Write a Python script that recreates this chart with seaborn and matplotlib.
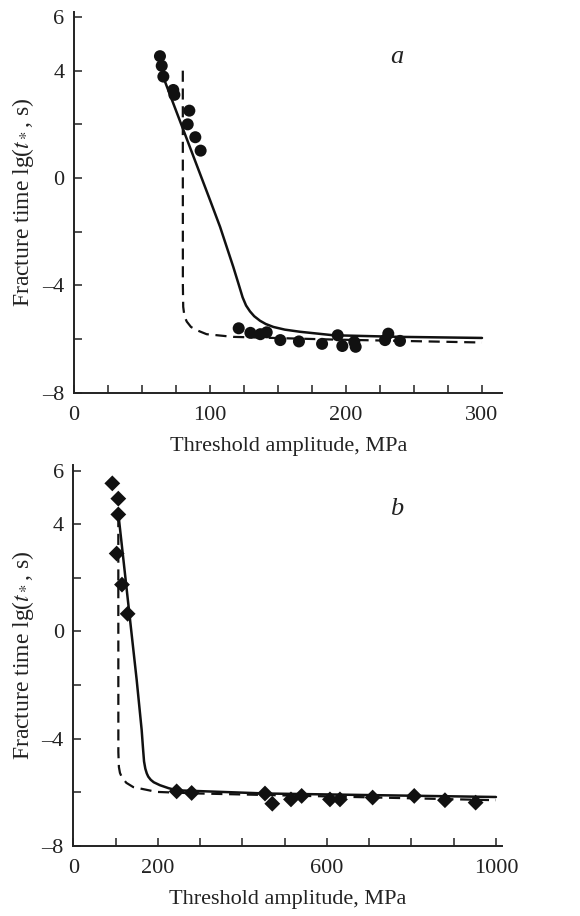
import matplotlib
matplotlib.use("Agg")
import matplotlib.pyplot as plt
import numpy as np
import seaborn as sns

# === Panel a: measured points and model curves ===
a_pts_x = [63.2, 64.5, 65.7, 73.0, 73.8, 84.8, 83.6, 89.2, 93.1,
           121.1, 129.7, 137.0, 141.7, 151.7, 165.4, 182.4, 193.9, 197.3,
           206.1, 207.1, 228.7, 231.1, 239.7]
a_pts_y = [4.54, 4.18, 3.78, 3.28, 3.10, 2.51, 2.00, 1.52, 1.02,
           -5.60, -5.77, -5.82, -5.75, -6.04, -6.09, -6.18, -5.86, -6.26,
           -6.11, -6.29, -6.04, -5.80, -6.07]
a_solid_x = [66.4, 100.0, 107.4, 117.1, 121.0, 124.0, 126.5, 129.4, 132.5, 136.8, 141.0,
             146.6, 155.0, 166.2, 190.7, 240.0, 300.0]
a_solid_y = [3.66, -0.82, -1.82, -3.31, -3.95, -4.45, -4.75, -4.97, -5.15, -5.32, -5.44,
             -5.55, -5.65, -5.73, -5.86, -5.92, -5.96]
a_dash_x = [80.0, 80.05, 80.3, 81.2, 82.9, 86.0, 90.2, 97.5, 117.1, 190.7, 300.0]
a_dash_y = [4.0, -4.0, -4.8, -5.15, -5.35, -5.55, -5.67, -5.82, -5.92, -6.02, -6.13]

# === Panel b ===
b_pts_x = [91.9, 106.1, 106.1, 102.2, 114.8, 128.2,
           244.2, 279.7, 453.3, 470.6, 514.8, 540.1, 607.1, 630.8, 708.1, 806.6, 879.3, 951.9]
b_pts_y = [5.53, 4.96, 4.37, 2.91, 1.75, 0.66,
           -5.97, -6.03, -6.05, -6.43, -6.27, -6.14, -6.27, -6.27, -6.20, -6.14, -6.30, -6.39]
b_solid_x = [107.7, 149.6, 161.4, 164.5, 167.0, 170.0, 173.5, 177.0, 183.0, 190.0, 204.7,
             225.0, 244.2, 457.3, 1000.0]
b_solid_y = [4.18, -1.81, -3.68, -4.35, -4.85, -5.12, -5.30, -5.42, -5.54, -5.63, -5.74,
             -5.85, -5.93, -6.05, -6.18]
b_dash_x = [106.1, 106.2, 107.5, 110.0, 114.1, 125.0, 141.5, 196.9, 299.4, 1000.0]
b_dash_y = [4.31, -4.5, -5.06, -5.28, -5.43, -5.65, -5.81, -5.99, -6.05, -6.30]

a_xticks = list(range(0, 301, 25))
a_xlabels = [str(t) if t % 100 == 0 else "" for t in a_xticks]
b_xticks = list(range(0, 1001, 100))
b_xlabels = [str(t) if t in (0, 200, 600, 1000) else "" for t in b_xticks]
yticks = list(range(-8, 7, 2))
ylabels = ["\u20138", "", "\u20134", "", "0", "", "4", "6"]

sns.set_style("ticks")
plt.rcParams["font.family"] = ["Liberation Serif", "DejaVu Serif"]
plt.rcParams["mathtext.fontset"] = "stix"

fig = plt.figure(figsize=(5.8, 9.16), dpi=100)
ax_a = fig.add_axes([0.1276, 0.5713, 0.7386, 0.416])
ax_b = fig.add_axes([0.1267, 0.0767, 0.7393, 0.4152])


def style_axis(ax, xmax, xticks, xlabels, tag, tag_xy):
    ax.set_xlim(0, xmax)
    ax.set_ylim(-8, 6.2)
    ax.set_xticks(xticks)
    ax.set_xticklabels(xlabels)
    ax.set_yticks(yticks)
    ax.set_yticklabels(ylabels)
    ax.tick_params(direction="in", length=6, width=1.1, labelsize=16,
                   color="#222222", labelcolor="#222222")
    ax.tick_params(axis="y", pad=7)
    ax.tick_params(axis="x", pad=9.5)
    for s in ("top", "right"):
        ax.spines[s].set_visible(False)
    for s in ("left", "bottom"):
        ax.spines[s].set_linewidth(1.4)
        ax.spines[s].set_color("#222222")
    ax.set_xlabel("Threshold amplitude, MPa", fontsize=16, color="#222222", labelpad=9)
    ax.set_ylabel(r"Fracture time lg($t_*$, s)", fontsize=17, color="#222222", labelpad=4)
    ax.text(tag_xy[0], tag_xy[1], tag, fontsize=19, style="italic", color="#222222",
            ha="center", va="center")


sns.lineplot(x=a_solid_x, y=a_solid_y, ax=ax_a, color="#111111", lw=1.8, sort=False, estimator=None)
sns.lineplot(x=a_dash_x, y=a_dash_y, ax=ax_a, color="#111111", lw=1.6, sort=False, estimator=None,
             linestyle=(0, (5, 3)))
sns.scatterplot(x=a_pts_x, y=a_pts_y, ax=ax_a, color="#111111", marker="o", s=75,
                edgecolor="none", zorder=3)
style_axis(ax_a, 315, a_xticks, a_xlabels, "a", (237.5, 4.5))

sns.lineplot(x=b_solid_x, y=b_solid_y, ax=ax_b, color="#111111", lw=1.8, sort=False, estimator=None)
sns.lineplot(x=b_dash_x, y=b_dash_y, ax=ax_b, color="#111111", lw=1.6, sort=False, estimator=None,
             linestyle=(0, (5, 3)))
sns.scatterplot(x=b_pts_x, y=b_pts_y, ax=ax_b, color="#111111", marker="D", s=65,
                edgecolor="none", zorder=3)
style_axis(ax_b, 1015, b_xticks, b_xlabels, "b", (766, 4.56))

fig.savefig("out.png", dpi=100)
